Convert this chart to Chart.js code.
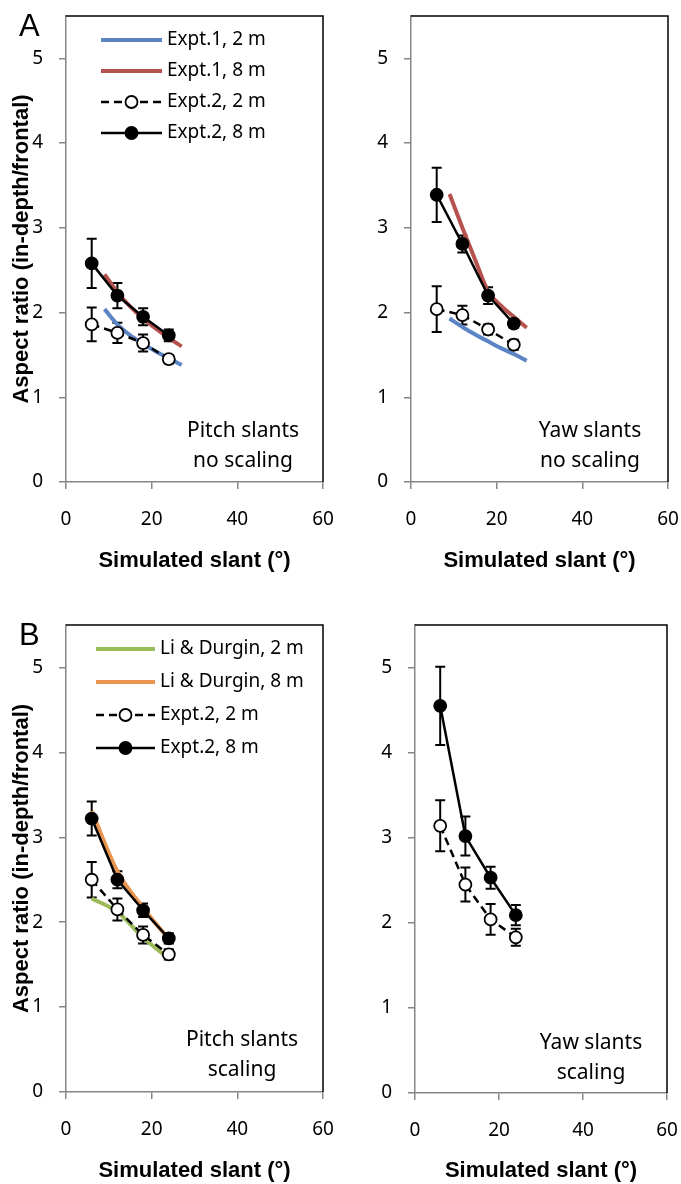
<!DOCTYPE html>
<html>
<head>
<meta charset="utf-8">
<script src="https://cdn.jsdelivr.net/npm/chart.js@4.4.1/dist/chart.umd.min.js"></script>
<style>
    body { margin: 0; background: #fff; }
    #fig { position: relative; width: 681px; height: 1184px; overflow: hidden; }
    .panel { position: absolute; }
    .tag { position: absolute; font: 31px "Liberation Sans", Arial, sans-serif; color: #000; line-height: 1; }
</style>
</head>
<body>
<div id="fig">
    <canvas class="panel" id="pitchNoScale" width="340" height="584" style="left:0;top:0"></canvas>
    <canvas class="panel" id="yawNoScale" width="341" height="584" style="left:340px;top:0"></canvas>
    <canvas class="panel" id="pitchScale" width="340" height="584" style="left:0;top:600px"></canvas>
    <canvas class="panel" id="yawScale" width="341" height="584" style="left:340px;top:600px"></canvas>
    <div class="tag" style="left:19px;top:10px">A</div>
    <div class="tag" style="left:19px;top:619px">B</div>
</div>
<script>
// simulated slant (deg) of the Expt.2 conditions and the model curves
const slants = [6, 12, 18, 24];
const modelSlants = [9, 12, 15, 18, 21, 24, 27];
const ldSlants = [6, 12, 18, 24];

const xTicks = [0, 20, 40, 60];
const yTicks = [0, 1, 2, 3, 4, 5];

// A, pitch slants, no scaling
const pitchExp1Near = [2.04, 1.86, 1.73, 1.63, 1.54, 1.46, 1.38];
const pitchExp1Far = [2.45, 2.24, 2.07, 1.93, 1.81, 1.70, 1.60];
const pitchNear = [1.86, 1.76, 1.64, 1.45];
const pitchNearErr = [0.20, 0.12, 0.10, 0.05];
const pitchFar = [2.58, 2.20, 1.95, 1.73];
const pitchFarErr = [0.29, 0.15, 0.10, 0.07];

// A, yaw slants, no scaling
const yawExp1Near = [1.93, 1.83, 1.74, 1.66, 1.58, 1.51, 1.43];
const yawExp1Far = [3.40, 3.00, 2.62, 2.25, 2.08, 1.95, 1.82];
const yawNear = [2.04, 1.97, 1.80, 1.62];
const yawNearErr = [0.27, 0.11, 0.06, 0.06];
const yawFar = [3.39, 2.81, 2.20, 1.87];
const yawFarErr = [0.32, 0.10, 0.10, 0.05];

// B, pitch slants, scaling
const ldPitchNear = [2.28, 2.12, 1.82, 1.57];
const ldPitchFar = [3.31, 2.60, 2.17, 1.80];
const pitchScaleNear = [2.50, 2.15, 1.85, 1.62];
const pitchScaleNearErr = [0.21, 0.13, 0.10, 0.06];
const pitchScaleFar = [3.22, 2.50, 2.14, 1.81];
const pitchScaleFarErr = [0.20, 0.10, 0.08, 0.06];

// B, yaw slants, scaling
const yawScaleNear = [3.14, 2.45, 2.04, 1.83];
const yawScaleNearErr = [0.30, 0.20, 0.18, 0.10];
const yawScaleFar = [4.55, 3.02, 2.53, 2.09];
const yawScaleFarErr = [0.46, 0.23, 0.13, 0.12];

const tickFont = { family: '"Noto Sans", sans-serif', size: 19 };
const titleFont = { family: '"Liberation Sans", Arial, sans-serif', size: 22, weight: 'bold' };
const axisGray = '#868686';

function points(xs, ys) {
    return xs.map((x, i) => ({ x: x, y: ys[i] }));
}

function modelLine(label, xs, ys, color) {
    return {
        label: label,
        data: points(xs, ys),
        borderColor: color,
        backgroundColor: color,
        borderWidth: 4,
        pointRadius: 0,
        cubicInterpolationMode: 'monotone',
        fill: false
    };
}

function exptLine(label, ys, errs, filled) {
    return {
        label: label,
        data: points(slants, ys),
        errors: errs,
        borderColor: '#000',
        borderWidth: 2.5,
        borderDash: filled ? [] : [8, 5],
        pointRadius: 6,
        pointBackgroundColor: filled ? '#000' : '#fff',
        pointBorderColor: '#000',
        pointBorderWidth: 1.8,
        fill: false
    };
}

// black top/right border of the plot area
const frame = {
    id: 'frame',
    beforeDatasetsDraw(chart) {
        const { ctx, chartArea: a } = chart;
        ctx.save();
        ctx.strokeStyle = '#000';
        ctx.lineWidth = 1.5;
        ctx.beginPath();
        ctx.moveTo(a.left, a.top);
        ctx.lineTo(a.right, a.top);
        ctx.lineTo(a.right, a.bottom);
        ctx.stroke();
        ctx.restore();
    }
};

const errorBars = {
    id: 'errorBars',
    beforeDatasetsDraw(chart) {
        const { ctx, scales: { x, y } } = chart;
        ctx.save();
        ctx.strokeStyle = '#000';
        ctx.lineWidth = 2;
        chart.data.datasets.forEach(ds => {
            if (!ds.errors) return;
            ds.data.forEach((p, i) => {
                const px = x.getPixelForValue(p.x);
                const top = y.getPixelForValue(p.y + ds.errors[i]);
                const bot = y.getPixelForValue(p.y - ds.errors[i]);
                ctx.beginPath();
                ctx.moveTo(px, top); ctx.lineTo(px, bot);
                ctx.moveTo(px - 5, top); ctx.lineTo(px + 5, top);
                ctx.moveTo(px - 5, bot); ctx.lineTo(px + 5, bot);
                ctx.stroke();
            });
        });
        ctx.restore();
    }
};

const lineLegend = {
    id: 'lineLegend',
    afterDraw(chart, args, opts) {
        if (!opts.order) return;
        const { ctx, chartArea: a } = chart;
        ctx.save();
        ctx.font = '19px "Noto Sans", sans-serif';
        ctx.textBaseline = 'middle';
        ctx.fillStyle = '#000';
        opts.order.forEach((idx, row) => {
            const ds = chart.data.datasets[idx];
            const x0 = a.left + opts.x;
            const y0 = a.top + opts.y + row * opts.gap;
            ctx.strokeStyle = ds.borderColor;
            ctx.lineWidth = ds.borderWidth;
            ctx.setLineDash(ds.borderDash || []);
            ctx.beginPath();
            ctx.moveTo(x0, y0);
            ctx.lineTo(x0 + opts.len, y0);
            ctx.stroke();
            ctx.setLineDash([]);
            if (ds.pointRadius) {
                ctx.beginPath();
                ctx.arc(x0 + opts.len / 2, y0, ds.pointRadius, 0, Math.PI * 2);
                ctx.fillStyle = ds.pointBackgroundColor;
                ctx.fill();
                ctx.lineWidth = ds.pointBorderWidth;
                ctx.strokeStyle = ds.pointBorderColor;
                ctx.stroke();
            }
            ctx.fillStyle = '#000';
            ctx.fillText(ds.label, x0 + opts.len + 5, y0);
        });
        ctx.restore();
    }
};

const note = {
    id: 'note',
    afterDraw(chart, args, opts) {
        if (!opts.lines) return;
        const { ctx, chartArea: a } = chart;
        ctx.save();
        ctx.font = '21px "Noto Sans", sans-serif';
        ctx.textAlign = 'center';
        ctx.textBaseline = 'middle';
        ctx.fillStyle = '#000';
        const cx = a.right - opts.dx;
        ctx.fillText(opts.lines[0], cx, a.bottom - opts.dy);
        ctx.fillText(opts.lines[1], cx, a.bottom - opts.dy + 30);
        ctx.restore();
    }
};

function makeChart(id, datasets, cfg) {
    new Chart(document.getElementById(id), {
        type: 'line',
        data: { datasets: datasets },
        options: {
            responsive: false,
            animation: false,
            events: [],
            layout: { padding: { top: cfg.top, right: cfg.right, left: 0, bottom: 0 } },
            scales: {
                x: {
                    type: 'linear',
                    min: xTicks[0],
                    max: xTicks[xTicks.length - 1],
                    afterBuildTicks: s => { s.ticks = xTicks.map(v => ({ value: v })); },
                    afterFit: s => { s.height = cfg.xHeight; s.paddingLeft = 0; s.paddingRight = 0; },
                    grid: { drawOnChartArea: false, drawTicks: true, tickLength: 7, color: axisGray, lineWidth: 1.5 },
                    border: { color: axisGray, width: 1.5 },
                    ticks: { color: '#000', font: tickFont, padding: 19, maxRotation: 0 },
                    title: { display: true, text: 'Simulated slant (°)', color: '#000', font: titleFont, padding: { top: 0, bottom: cfg.titlePad } }
                },
                y: {
                    min: 0,
                    max: 5.5,
                    afterBuildTicks: s => { s.ticks = yTicks.map(v => ({ value: v })); },
                    afterFit: s => { s.width = cfg.yWidth; s.paddingTop = 0; s.paddingBottom = 0; },
                    grid: { drawOnChartArea: false, drawTicks: true, tickLength: 7, color: axisGray, lineWidth: 1.5 },
                    border: { color: axisGray, width: 1.5 },
                    ticks: { color: '#000', font: tickFont, padding: 16 },
                    title: { display: cfg.yTitle, text: 'Aspect ratio (in-depth/frontal)', color: '#000', font: titleFont, padding: { top: 9, bottom: 0 } }
                }
            },
            plugins: {
                legend: { display: false },
                tooltip: { enabled: false },
                lineLegend: cfg.legend || {},
                note: cfg.note
            }
        },
        plugins: [frame, errorBars, lineLegend, note]
    });
}

// datasets listed top-most first (Chart.js draws index 0 last)
makeChart('pitchNoScale', [
    exptLine('Expt.2, 8 m', pitchFar, pitchFarErr, true),
    exptLine('Expt.2, 2 m', pitchNear, pitchNearErr, false),
    modelLine('Expt.1, 8 m', modelSlants, pitchExp1Far, '#b5524e'),
    modelLine('Expt.1, 2 m', modelSlants, pitchExp1Near, '#5b84c4')
], {
    top: 16, right: 17, xHeight: 102, yWidth: 66, yTitle: true, titlePad: 10,
    legend: { order: [3, 2, 1, 0], x: 35, y: 24, gap: 31, len: 61 },
    note: { lines: ['Pitch slants', 'no scaling'], dx: 80, dy: 51 }
});

makeChart('yawNoScale', [
    exptLine('Expt.2, 8 m', yawFar, yawFarErr, true),
    exptLine('Expt.2, 2 m', yawNear, yawNearErr, false),
    modelLine('Expt.1, 8 m', modelSlants, yawExp1Far, '#b5524e'),
    modelLine('Expt.1, 2 m', modelSlants, yawExp1Near, '#5b84c4')
], {
    top: 16, right: 13, xHeight: 102, yWidth: 71, yTitle: false, titlePad: 10,
    note: { lines: ['Yaw slants', 'no scaling'], dx: 78, dy: 51 }
});

makeChart('pitchScale', [
    exptLine('Expt.2, 8 m', pitchScaleFar, pitchScaleFarErr, true),
    exptLine('Expt.2, 2 m', pitchScaleNear, pitchScaleNearErr, false),
    modelLine('Li & Durgin, 8 m', ldSlants, ldPitchFar, '#e8954f'),
    modelLine('Li & Durgin, 2 m', ldSlants, ldPitchNear, '#9bbb59')
], {
    top: 25, right: 17, xHeight: 92, yWidth: 66, yTitle: true, titlePad: 0,
    legend: { order: [3, 2, 1, 0], x: 30, y: 24, gap: 33, len: 59 },
    note: { lines: ['Pitch slants', 'scaling'], dx: 81, dy: 52 }
});

makeChart('yawScale', [
    exptLine('Expt.2, 8 m', yawScaleFar, yawScaleFarErr, true),
    exptLine('Expt.2, 2 m', yawScaleNear, yawScaleNearErr, false)
], {
    top: 25, right: 14, xHeight: 91, yWidth: 75, yTitle: false, titlePad: 0,
    note: { lines: ['Yaw slants', 'scaling'], dx: 76, dy: 50 }
});
</script>
</body>
</html>
